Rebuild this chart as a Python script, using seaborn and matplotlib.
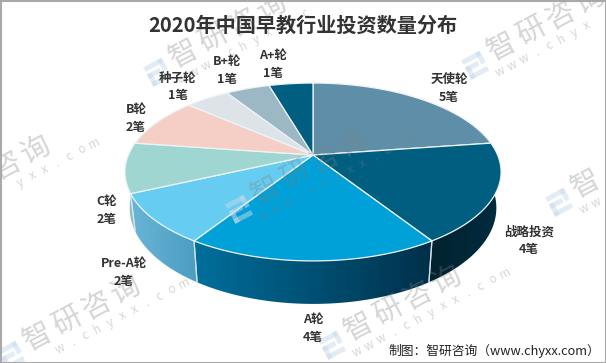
#!/usr/bin/env python
"""2020 early-education investment counts, drawn as a tilted 3D pie."""

from __future__ import annotations

import matplotlib

matplotlib.use("Agg")
import matplotlib.pyplot as plt
import numpy as np
import seaborn as sns
from matplotlib.patches import Polygon, Rectangle
from matplotlib.transforms import Affine2D

TITLE = "2020年中国早教行业投资数量分布"
SOURCE = "制图：智研咨询（www.chyxx.com）"
LABELS = ["天使轮", "战略投资", "A轮", "Pre-A轮", "C轮", "B轮", "种子轮", "B+轮", "A+轮"]
COUNTS = [5, 4, 4, 2, 2, 2, 1, 1, 1]
COUNT_TEXT = [f"{c}笔" for c in COUNTS]

TOP_COLORS = ["#5f8fa8", "#005f80", "#00a0d8", "#66ccf2", "#a0d6d2", "#f5cfc6", "#dce4ea", "#9bb8c4", "#005f80"]
SIDE_LEFT = ["#5f8fa8", "#01222f", "#006f9c", "#6ab5d8", "#9ac3bf", "#f5cfc6", "#dce4ea", "#9bb8c4", "#005f80"]
SIDE_RIGHT = ["#5f8fa8", "#022c40", "#01304a", "#4a9cc0", "#8fbab6", "#f5cfc6", "#dce4ea", "#9bb8c4", "#005f80"]
LABEL_POS = [(449, 79), (529, 232), (313, 319), (124, 264), (107, 201), (136, 110), (178, 78), (227, 61), (273, 55)]

# projection of the tilted disc, in pixels
CX, CY = 313, 155
RADIUS, MINOR, PERSP = 184.6, 85.7, 0.191
DEPTH_X, DEPTH_Y, DEPTH_SHIFT = 0.975, 1.08, 34.5

# logo position of each repeated watermark
WATERMARKS = [(158, 72), (476, 65), (-78, 215), (240, 209), (12, 355), (333, 345), (560, 202)]
MARK_NAME = "智研咨询"
MARK_URL = "www.chyxx.com"


def project(angle: np.ndarray, r: float | np.ndarray = 1.0) -> tuple[np.ndarray, np.ndarray]:
    u = r * np.sin(angle)
    v = -r * np.cos(angle)
    w = 1 - PERSP * v
    return RADIUS * u / w, MINOR * v / w


def v_front(angle: float) -> bool:
    return np.cos(angle) < 0.2


def draw_side(ax: plt.Axes, start: float, stop: float, idx: int) -> None:
    t = np.linspace(start, stop, 80)
    x, y = project(t)
    top = np.column_stack([CX + x, CY + y])
    bottom = np.column_stack([CX + x * DEPTH_X, CY + y * DEPTH_Y + DEPTH_SHIFT])
    outline = np.vstack([top, bottom[::-1]])
    clip = Polygon(outline, closed=True, transform=ax.transData, facecolor="none", edgecolor="none")
    ax.add_patch(clip)
    grad = sns.blend_palette([SIDE_LEFT[idx], SIDE_RIGHT[idx]], n_colors=64, as_cmap=True)
    x0, x1 = outline[:, 0].min(), outline[:, 0].max()
    y0, y1 = outline[:, 1].min(), outline[:, 1].max()
    img = ax.imshow(
        np.linspace(0, 1, 256)[None, :],
        extent=(x0, x1, y1, y0),
        cmap=grad,
        aspect="auto",
        zorder=2,
    )
    img.set_clip_path(clip)
    for end in (start, stop):
        if not v_front(end):
            continue
        ex, ey = project(np.array([end]))
        ax.plot(
            [CX + ex[0], CX + ex[0] * DEPTH_X],
            [CY + ey[0], CY + ey[0] * DEPTH_Y + DEPTH_SHIFT],
            color="#d5e4ea",
            lw=0.9,
            alpha=0.9,
            zorder=3,
        )


def draw_top(ax: plt.Axes, start: float, stop: float, idx: int) -> None:
    t = np.linspace(start, stop, 80)
    x, y = project(t)
    pts = np.vstack([[CX, CY], np.column_stack([CX + x, CY + y])])
    ax.add_patch(
        Polygon(pts, closed=True, facecolor=TOP_COLORS[idx], edgecolor="#eef4f6", lw=0.9, zorder=4, joinstyle="round")
    )


def draw_spaced(ax: plt.Axes, text: str, x: float, y: float, step: float, rot: float, size: float, margin: float) -> None:
    # one text per glyph, so the wide tracking holds and off-canvas glyphs are skipped
    c, s = np.cos(np.radians(rot)), np.sin(np.radians(rot))
    for i, ch in enumerate(text):
        px = x + i * step * c
        py = y - i * step * s
        if not (margin < px < 606 - margin and margin < py < 363 - margin):
            continue
        ax.text(px, py, ch, rotation=rot, rotation_mode="anchor", ha="center", va="center",
                fontsize=size, color="#808080", alpha=0.33, zorder=6)


def draw_watermark(ax: plt.Axes, x: float, y: float) -> None:
    rot = 28
    base = Affine2D().rotate_deg_around(x, y, -rot) + ax.transData
    for dx, dy, w, h in [(-11, -11, 20, 5), (5, -11, 5, 13), (-11, -3, 14, 5), (-11, -3, 5, 14), (-11, 6, 20, 5)]:
        ax.add_patch(
            Rectangle((x + dx, y + dy), w, h, transform=base, facecolor="#c9d9ea", edgecolor="none", alpha=0.5, zorder=6)
        )
    draw_spaced(ax, MARK_NAME, x + 26, y - 18, 33, rot, 21, -6)
    draw_spaced(ax, MARK_URL, x + 24, y + 7, 14, rot, 8.5, 9)


def main() -> None:
    sns.set_theme(style="white")
    plt.rcParams["font.family"] = ["Noto Sans CJK SC", "DejaVu Sans"]

    fig = plt.figure(figsize=(6.06, 3.63), dpi=100, facecolor="white")
    ax = fig.add_axes([0, 0, 1, 1])
    ax.set_xlim(0, 606)
    ax.set_ylim(363, 0)
    ax.axis("off")

    edges = np.concatenate([[0], np.cumsum(COUNTS)]) / sum(COUNTS) * 2 * np.pi
    for idx in np.argsort(-np.abs(edges[:-1] - np.pi)):
        draw_side(ax, edges[idx], edges[idx + 1], idx)
    ax.set_xlim(0, 606)
    ax.set_ylim(363, 0)
    for idx in range(len(COUNTS)):
        draw_top(ax, edges[idx], edges[idx + 1], idx)

    for (x, y), name, text in zip(LABEL_POS, LABELS, COUNT_TEXT, strict=True):
        ax.text(x, y, name, ha="center", va="center", fontsize=9, fontweight="bold", color="#333333", zorder=7)
        ax.text(x, y + 18, text, ha="center", va="center", fontsize=9, fontweight="bold", color="#333333", zorder=7)

    ax.text(303, 25, TITLE, ha="center", va="center", fontsize=14.5, fontweight="bold", color="#333333", zorder=7)
    ax.text(600, 351, SOURCE, ha="right", va="center", fontsize=9.2, color="#222222", zorder=7)

    for x, y in WATERMARKS:
        draw_watermark(ax, x, y)

    ax.add_patch(Rectangle((0.5, 0.5), 605, 362, facecolor="none", edgecolor="#a9a9a9", lw=1.5, zorder=8))
    fig.savefig("out.png", dpi=100)
    plt.close(fig)


if __name__ == "__main__":
    main()
